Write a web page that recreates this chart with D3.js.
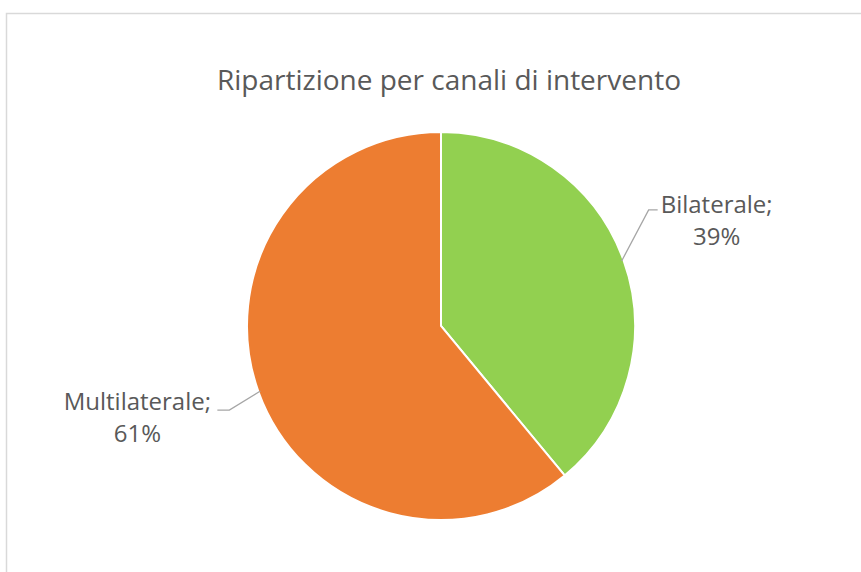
<!DOCTYPE html>
<html>
<head>
<meta charset="utf-8">
<script src="https://cdn.jsdelivr.net/npm/d3@7"></script>
<style>
  body { margin: 0; background: #fff; }
  text { font-family: "Open Sans", sans-serif; fill: #595959; }
</style>
</head>
<body>
<div id="chart"></div>
<script>
// Data
const categories = ["Bilaterale", "Multilaterale"];
const values = [39, 61];
const colors = ["#92d050", "#ed7d31"];

const width = 861;
const height = 572;
const cx = 441, cy = 326, radius = 194;

const svg = d3.select("#chart")
  .append("svg")
  .attr("width", width)
  .attr("height", height);

// Chart frame
svg.append("rect")
  .attr("x", 6.5).attr("y", 13.5)
  .attr("width", 900).attr("height", 600)
  .attr("fill", "#fff")
  .attr("stroke", "#d9d9d9")
  .attr("stroke-width", 1.5);

// Title
svg.append("text")
  .attr("x", 449).attr("y", 90)
  .attr("text-anchor", "middle")
  .style("font-size", "28px")
  .text("Ripartizione per canali di intervento");

const pie = d3.pie().sort(null).value(d => d);
const arcs = pie(values);
const arc = d3.arc().innerRadius(0).outerRadius(radius);

const g = svg.append("g").attr("transform", `translate(${cx}, ${cy})`);

g.selectAll("path.slice")
  .data(arcs)
  .enter()
  .append("path")
  .attr("class", "slice")
  .attr("d", arc)
  .attr("fill", (d, i) => colors[i])
  .attr("stroke", "#fff")
  .attr("stroke-width", 2);

// Labels with leader lines
const edgeArc = d3.arc().innerRadius(radius - 2).outerRadius(radius - 2);
const labelOffsets = [
  { elbow: [27, -51], end: [36, -51], text: [95, -48] },
  { elbow: [-31, 19], end: [-43, 19], text: [-123, 19] }
];

arcs.forEach((d, i) => {
  const p = edgeArc.centroid(d);
  const o = labelOffsets[i];
  const elbow = [p[0] + o.elbow[0], p[1] + o.elbow[1]];
  const end = [p[0] + o.end[0], p[1] + o.end[1]];
  g.append("polyline")
    .attr("points", [p, elbow, end].map(q => q.join(",")).join(" "))
    .attr("fill", "none")
    .attr("stroke", "#a6a6a6")
    .attr("stroke-width", 1.3);
  const t = g.append("text")
    .attr("x", p[0] + o.text[0])
    .attr("y", p[1] + o.text[1])
    .attr("text-anchor", "middle")
    .style("font-size", "24px");
  t.append("tspan").text(categories[i] + ";");
  t.append("tspan")
    .attr("x", p[0] + o.text[0])
    .attr("dy", 32)
    .text(values[i] + "%");
});
</script>
</body>
</html>
